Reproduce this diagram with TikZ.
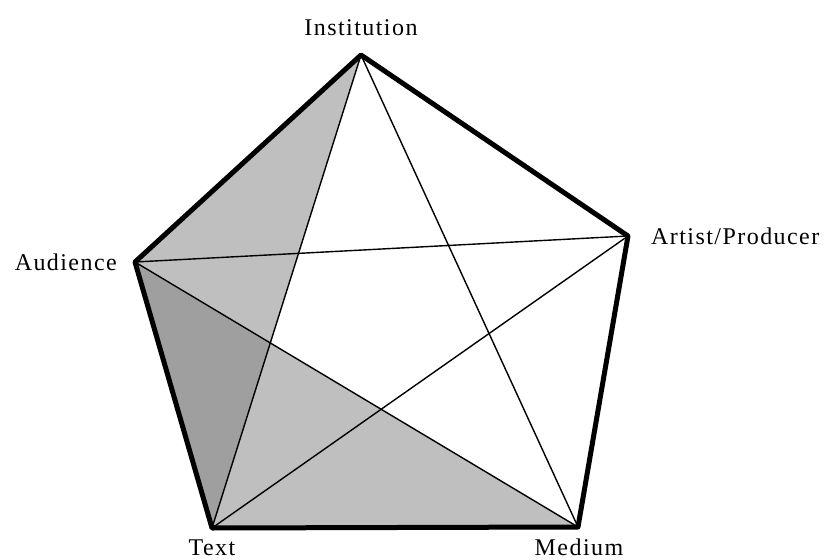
\documentclass[tikz,border=0pt]{standalone}
\usepackage{fontspec}
\setmainfont[LetterSpace=6]{Liberation Serif}
\begin{document}
\begin{tikzpicture}[x=1pt,y=-1pt,
  edge/.style={line width=5pt,line join=round,line cap=round},
  diag/.style={line width=1.4pt},
  lab/.style={font=\fontsize{24}{28}\selectfont,inner sep=0pt}]
\useasboundingbox (0,0) rectangle (839,560);
\coordinate (I) at (361,55);
\coordinate (P) at (628,236);
\coordinate (M) at (578,527);
\coordinate (T) at (212,528);
\coordinate (A) at (135,262);
\coordinate (X) at (intersection of I--T and A--M);
\fill[gray!50] (I) -- (A) -- (T) -- cycle;
\fill[gray!50] (A) -- (T) -- (M) -- cycle;
\fill[gray!75] (A) -- (X) -- (T) -- cycle;
\draw[diag] (I) -- (T);
\draw[diag] (I) -- (M);
\draw[diag] (A) -- (P);
\draw[diag] (A) -- (M);
\draw[diag] (T) -- (P);
\draw[edge] (I) -- (P) -- (M) -- (T) -- (A) -- cycle;
\node[lab] (li) at (361,28) {Institution};
\node[lab,anchor=west] (lp) at (651,236) {Artist/Producer};
\node[lab,anchor=east] (la) at (117,262) {Audience};
\node[lab,anchor=base] (lt) at (212,555) {Text};
\node[lab,anchor=base] (lm) at (579,555) {Medium};
\end{tikzpicture}
\end{document}
